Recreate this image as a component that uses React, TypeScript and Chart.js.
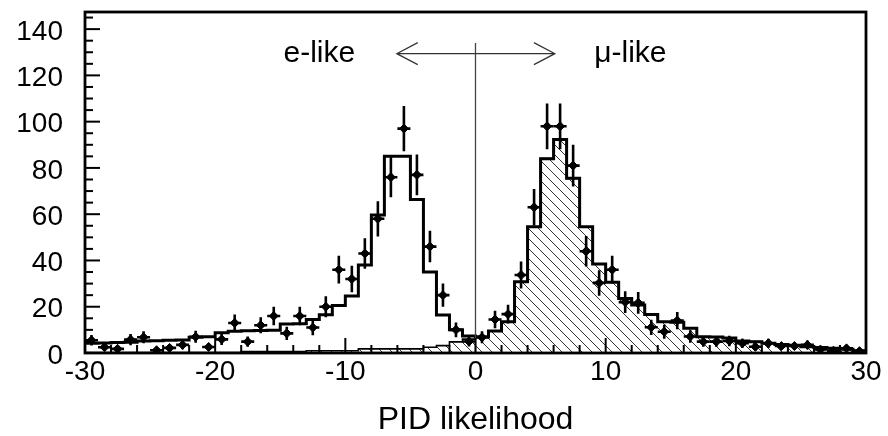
import { useEffect, useRef } from 'react';
import { Chart, registerables } from 'chart.js';

Chart.register(...registerables);

// ---- data ----
const binEdges = [
  -30, -29, -28, -27, -26, -25, -24, -23, -22, -21, -20, -19, -18, -17, -16, -15,
  -14, -13, -12, -11, -10, -9, -8, -7, -6, -5, -4, -3, -2, -1, 0,
  1, 2, 3, 4, 5, 6, 7, 8, 9, 10, 11, 12, 13, 14, 15,
  16, 17, 18, 19, 20, 21, 22, 23, 24, 25, 26, 27, 28, 29, 30,
];

const dataCounts = [
  5.5, 2.5, 1.8, 5.8, 6.8, 1.2, 2.2, 3.5, 7, 2.6,
  5.9, 13, 4.9, 12, 16, 8.5, 16, 11, 20, 36,
  32, 43, 58, 76, 97, 77, 46, 25, 10, 5,
  6.8, 14.5, 16.8, 33.7, 63, 98, 98, 81, 44, 30.3,
  36, 22, 21.7, 11.1, 9.2, 14, 7.1, 4.9, 4.9, 5.2,
  4.2, 2.7, 4.2, 3, 3, 3.5, 1.5, 1, 2, 0.8,
];

const dataErrors = [
  2.3, 1.6, 1.3, 2.4, 2.6, 1.1, 1.5, 1.9, 2.6, 1.6,
  2.4, 3.6, 2.2, 3.5, 4, 2.9, 4, 3.3, 4.5, 6,
  5.7, 6.6, 7.6, 8.7, 9.8, 8.8, 6.8, 5, 3.2, 2.2,
  2.6, 3.8, 4.1, 5.8, 7.9, 9.9, 9.9, 9, 6.6, 5.5,
  6, 4.7, 4.7, 3.3, 3, 3.7, 2.7, 2.2, 2.2, 2.3,
  2, 1.6, 2, 1.7, 1.7, 1.9, 1.2, 1, 1.4, 0.9,
];

const mcTotal = [
  4.2, 4.3, 4.5, 4.6, 5.2, 5.3, 5.5, 5.6, 6.8, 7,
  8.8, 9.4, 9.6, 9.7, 9.8, 12.5, 12.6, 14.5, 16.5, 20.5,
  24.6, 38, 59.6, 85, 85, 66.4, 35, 16.4, 10, 7.3,
  7, 9.5, 13.5, 30.8, 54.6, 84, 92.3, 75.5, 54.6, 38.5,
  30.6, 23.6, 20.7, 16.6, 13.5, 13.3, 10.7, 7, 6.9, 6.5,
  5.2, 4.9, 4.2, 3.7, 3.3, 2.7, 2.4, 2, 1.6, 1,
];

const mcMuon = [
  0.2, 0.2, 0.2, 0.2, 0.2, 0.2, 0.2, 0.2, 0.2, 0.2,
  0.2, 0.2, 0.6, 0.6, 0.6, 0.6, 0.6, 1, 1, 1,
  1, 1.8, 1.8, 1.8, 1.8, 1.8, 2.5, 3.2, 4.8, 6,
  6.6, 9.5, 13.5, 30.8, 54.6, 84, 92.3, 75.5, 54.6, 38.5,
  30.6, 23.6, 20.7, 16.6, 13.5, 13.3, 10.7, 7, 6.9, 6.5,
  5.2, 4.9, 4.2, 3.7, 3.3, 2.7, 2.4, 2, 1.6, 1,
];

const xTickValues = [-30, -20, -10, 0, 10, 20, 30];
const yTickValues = [0, 20, 40, 60, 80, 100, 120, 140];
const X_MIN = -30;
const X_MAX = 30;
const Y_MIN = 0;
const Y_MAX = 147.4;
const xTitle = 'PID likelihood';
const leftLabel = 'e-like';
const rightLabel = 'μ-like';

// annotation anchors (data units)
const ANN_Y = 129.4;
const ANN_LINE_TOP = 134;
const ARROW_LEFT = -6.05;
const ARROW_RIGHT = 6.1;
const LEFT_LABEL_X = -12;
const RIGHT_LABEL_X = 11.9;

const FONT = '"Liberation Sans", Arial, Helvetica, sans-serif';

function stepPoints(values: number[]) {
  const pts = values.map((v, i) => ({ x: binEdges[i], y: v }));
  pts.push({ x: binEdges[values.length], y: values[values.length - 1] });
  return pts;
}

const centers = dataCounts.map((_, i) => (binEdges[i] + binEdges[i + 1]) / 2);
const halfWidths = dataCounts.map((_, i) => (binEdges[i + 1] - binEdges[i]) / 2);

function makeHatch(): CanvasPattern | string {
  const c = document.createElement('canvas');
  c.width = 10;
  c.height = 10;
  const g = c.getContext('2d');
  if (!g) return '#999';
  g.strokeStyle = '#333';
  g.lineWidth = 1;
  g.beginPath();
  g.moveTo(0, 0);
  g.lineTo(10, 10);
  g.moveTo(-1, 9);
  g.lineTo(1, 11);
  g.moveTo(9, -1);
  g.lineTo(11, 1);
  g.stroke();
  return g.createPattern(c, 'repeat') || '#999';
}

const decorPlugin = {
  id: 'decor',
  afterDatasetsDraw(chart: any) {
    const { ctx, chartArea: a } = chart;
    const x = chart.scales.x;
    const y = chart.scales.y;
    ctx.save();
    ctx.beginPath();
    ctx.rect(a.left, a.top, a.right - a.left, a.bottom - a.top);
    ctx.clip();

    // error bars
    ctx.strokeStyle = '#000';
    ctx.lineWidth = 2.6;
    ctx.lineCap = 'butt';
    dataCounts.forEach((v, i) => {
      const px = x.getPixelForValue(centers[i]);
      const py = y.getPixelForValue(v);
      const y1 = y.getPixelForValue(v - dataErrors[i]);
      const y2 = y.getPixelForValue(v + dataErrors[i]);
      const xl = x.getPixelForValue(centers[i] - halfWidths[i]);
      const xr = x.getPixelForValue(centers[i] + halfWidths[i]);
      ctx.beginPath();
      ctx.moveTo(px, y1);
      ctx.lineTo(px, y2);
      ctx.moveTo(xl, py);
      ctx.lineTo(xr, py);
      ctx.stroke();
    });

    // vertical divider at 0
    ctx.strokeStyle = '#444';
    ctx.lineWidth = 1.3;
    const x0 = x.getPixelForValue(0);
    ctx.beginPath();
    ctx.moveTo(x0, y.getPixelForValue(ANN_LINE_TOP));
    ctx.lineTo(x0, y.getPixelForValue(0));
    ctx.stroke();

    // double arrow
    const ay = y.getPixelForValue(ANN_Y);
    const axl = x.getPixelForValue(ARROW_LEFT);
    const axr = x.getPixelForValue(ARROW_RIGHT);
    ctx.strokeStyle = '#333';
    ctx.lineWidth = 1.2;
    ctx.beginPath();
    ctx.moveTo(axl, ay);
    ctx.lineTo(axr, ay);
    ctx.moveTo(axl + 21, ay - 11);
    ctx.lineTo(axl, ay);
    ctx.lineTo(axl + 21, ay + 11);
    ctx.moveTo(axr - 21, ay - 11);
    ctx.lineTo(axr, ay);
    ctx.lineTo(axr - 21, ay + 11);
    ctx.stroke();

    // labels
    ctx.fillStyle = '#000';
    ctx.font = `30px ${FONT}`;
    ctx.textAlign = 'center';
    ctx.textBaseline = 'middle';
    ctx.fillText(leftLabel, x.getPixelForValue(LEFT_LABEL_X), ay);
    ctx.fillText(rightLabel, x.getPixelForValue(RIGHT_LABEL_X), ay);
    ctx.restore();
  },
  afterDraw(chart: any) {
    const { ctx, chartArea: a } = chart;
    const x = chart.scales.x;
    const y = chart.scales.y;
    ctx.save();
    ctx.strokeStyle = '#000';
    ctx.lineWidth = 2;
    // inward ticks on x axis (every 2, major every 10)
    for (let v = X_MIN; v <= X_MAX; v += 2) {
      const px = x.getPixelForValue(v);
      const len = xTickValues.includes(v) ? 15 : 8;
      ctx.beginPath();
      ctx.moveTo(px, a.bottom);
      ctx.lineTo(px, a.bottom - len);
      ctx.stroke();
    }
    // inward ticks on y axis (every 5, major every 20)
    for (let v = Y_MIN; v <= Y_MAX; v += 5) {
      const py = y.getPixelForValue(v);
      const len = yTickValues.includes(v) ? 15 : 8;
      ctx.beginPath();
      ctx.moveTo(a.left, py);
      ctx.lineTo(a.left + len, py);
      ctx.stroke();
    }
    // frame
    ctx.lineWidth = 2.8;
    ctx.strokeRect(a.left, a.top, a.right - a.left, a.bottom - a.top);
    ctx.restore();
  },
};

export default function App() {
  const ref = useRef<HTMLCanvasElement | null>(null);

  useEffect(() => {
    const canvas = ref.current;
    if (!canvas) return;
    const hatch = makeHatch();
    const chart = new Chart(canvas, {
      type: 'line',
      data: {
        datasets: [
          {
            label: 'data',
            data: centers.map((c, i) => ({ x: c, y: dataCounts[i] })),
            showLine: false,
            pointStyle: 'rectRot',
            pointRadius: 4.5,
            pointBackgroundColor: '#000',
            pointBorderColor: '#000',
            pointBorderWidth: 1,
            borderColor: '#000',
          } as any,
          {
            label: 'MC total',
            data: stepPoints(mcTotal),
            stepped: true,
            borderColor: '#000',
            borderWidth: 3,
            pointRadius: 0,
            fill: false,
          } as any,
          {
            label: 'MC mu',
            data: stepPoints(mcMuon),
            stepped: true,
            borderColor: '#000',
            borderWidth: 1.6,
            pointRadius: 0,
            backgroundColor: hatch,
            fill: 'origin',
          } as any,
        ],
      },
      options: {
        animation: false,
        responsive: false,
        devicePixelRatio: 1,
        events: [],
        layout: { padding: { top: 12, right: 22, left: 0, bottom: 0 } },
        plugins: {
          legend: { display: false },
          tooltip: { enabled: false },
        },
        scales: {
          x: {
            type: 'linear',
            min: X_MIN,
            max: X_MAX,
            grid: { display: false, drawTicks: false },
            border: { display: false },
            afterBuildTicks: (s: any) => {
              s.ticks = xTickValues.map((v) => ({ value: v }));
            },
            afterFit: (s: any) => {
              s.height = 83;
              s.paddingLeft = 0;
              s.paddingRight = 0;
            },
            ticks: {
              color: '#000',
              font: { family: FONT, size: 28 },
              padding: 2,
              maxRotation: 0,
              minRotation: 0,
              autoSkip: false,
              callback: (v: any) => String(v),
            },
            title: {
              display: true,
              text: xTitle,
              color: '#000',
              font: { family: FONT, size: 32, lineHeight: 1 },
              padding: { top: 0, bottom: 0 },
            },
          },
          y: {
            type: 'linear',
            min: Y_MIN,
            max: Y_MAX,
            grid: { display: false, drawTicks: false },
            border: { display: false },
            afterBuildTicks: (s: any) => {
              s.ticks = yTickValues.map((v) => ({ value: v }));
            },
            afterFit: (s: any) => {
              s.width = 85;
              s.paddingTop = 0;
              s.paddingBottom = 0;
            },
            ticks: {
              color: '#000',
              font: { family: FONT, size: 28 },
              padding: 22,
              labelOffset: 3,
              autoSkip: false,
              callback: (v: any) => String(v),
            },
          },
        },
      } as any,
      plugins: [decorPlugin],
    });
    return () => chart.destroy();
  }, []);

  return (
    <div style={{ position: 'fixed', left: 0, top: 0, width: 888, height: 436, background: '#fff' }}>
      <canvas ref={ref} width={888} height={436} style={{ display: 'block', width: 888, height: 436 }} />
    </div>
  );
}
